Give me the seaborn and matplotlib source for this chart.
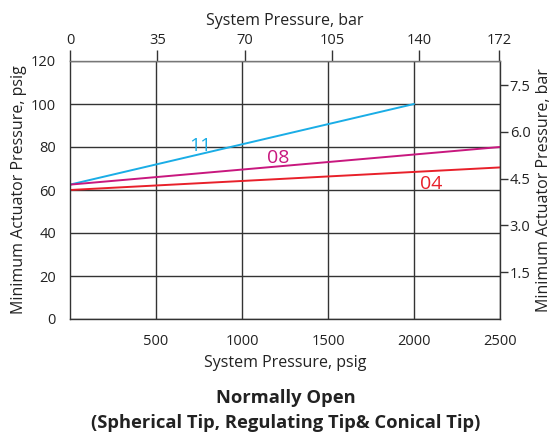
import numpy as np
import pandas as pd
import matplotlib
matplotlib.use('Agg')
import matplotlib.pyplot as plt
import seaborn as sns

# Series (system pressure psig -> min actuator pressure psig)
series_names = ['11', '08', '04']
series_x = [[0, 2000], [0, 2500], [0, 2500]]
series_y = [[62.5, 100], [62.5, 80], [60, 70.5]]
series_colors = ['#1AADE6', '#C8177E', '#E8202A']
label_pos = [(756, 80.5), (1210, 75.0), (2100, 62.8)]

x_ticks = [500, 1000, 1500, 2000, 2500]
y_ticks = [0, 20, 40, 60, 80, 100, 120]
bar_x_ticks = [0, 35, 70, 105, 140, 172]
bar_y_ticks = [1.5, 3.0, 4.5, 6.0, 7.5]
PSI_PER_BAR = 14.5

sns.set_theme(style="white")
plt.rcParams['font.family'] = ['Open Sans', 'DejaVu Sans']

rows = []
for name, xs, ys in zip(series_names, series_x, series_y):
    for x, y in zip(xs, ys):
        rows.append({'psig': x, 'act': y, 'series': name})
df = pd.DataFrame(rows)

fig = plt.figure(figsize=(5.53, 4.34), dpi=100)
ax = fig.add_axes([70/553, 115/434, 430/553, 258/434])

sns.lineplot(data=df, x='psig', y='act', hue='series', hue_order=series_names,
             palette=series_colors, linewidth=1.4, legend=False, ax=ax)

for name, (lx, ly), c in zip(series_names, label_pos, series_colors):
    ax.text(lx, ly, name, color=c, fontsize=14, ha='center', va='center')

ax.set_xlim(0, 2500)
ax.set_ylim(0, 120)
ax.set_xticks(x_ticks)
ax.set_yticks(y_ticks)
ax.grid(True, color='#333333', linewidth=1.0)
ax.set_axisbelow(True)
for s in ax.spines.values():
    s.set_color('#333333')
    s.set_linewidth(1.0)
ax.spines['top'].set_color('#777777')
ax.tick_params(axis='both', direction='out', length=8, width=1.0, color='#333333',
               labelsize=10.5, labelcolor='#222222', pad=2)
ax.tick_params(axis='x', pad=3)
ax.set_xlabel('System Pressure, psig', fontsize=11.5, color='#222222', labelpad=4)
ax.set_ylabel('Minimum Actuator Pressure, psig', fontsize=11.5, color='#222222', labelpad=3)

top = ax.secondary_xaxis('top', functions=(lambda v: v / PSI_PER_BAR, lambda v: v * PSI_PER_BAR))
top.set_xticks(bar_x_ticks)
top.tick_params(direction='out', length=8, width=1.0, color='#333333', labelsize=10.5,
                labelcolor='#222222', pad=1)
top.set_xlabel('System Pressure, bar', fontsize=11.5, color='#222222', labelpad=6)
top.spines['top'].set_visible(False)

right = ax.secondary_yaxis('right', functions=(lambda v: v / PSI_PER_BAR, lambda v: v * PSI_PER_BAR))
right.set_yticks(bar_y_ticks)
right.set_yticklabels([f'{v:.1f}' for v in bar_y_ticks])
right.tick_params(direction='out', length=6, width=1.0, color='#333333', labelsize=10.5,
                  labelcolor='#222222', pad=1)
right.set_ylabel('Minimum Actuator Pressure, bar', fontsize=11.5, color='#222222', labelpad=4)
right.spines['right'].set_visible(False)

fig.text(286/553, 1 - 398/434, 'Normally Open', ha='center', va='center',
         fontsize=13.2, fontweight='bold', color='#222222')
fig.text(286/553, 1 - 423/434, '(Spherical Tip, Regulating Tip& Conical Tip)', ha='center',
         va='center', fontsize=13.2, fontweight='bold', color='#222222')

fig.savefig('out.png', dpi=100)
